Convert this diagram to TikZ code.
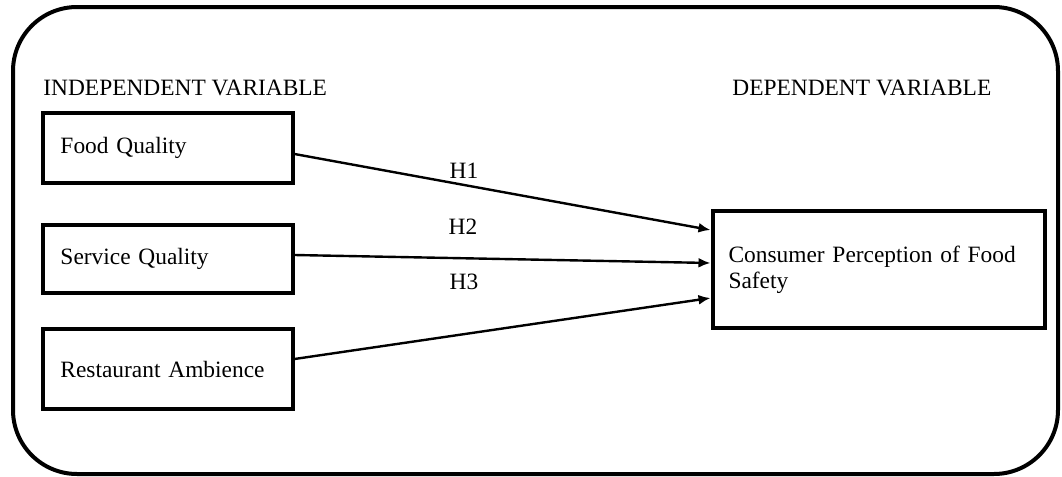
\documentclass[tikz,border=0pt]{standalone}
\usepackage{fontspec}
\setmainfont{Liberation Serif}
\usetikzlibrary{positioning,arrows.meta,calc}

\begin{document}
\begin{tikzpicture}[
    x=0.5pt, y=-0.5pt,
    node distance=20pt and 40pt,
    varbox/.style={rectangle, draw, line width=2pt, text width=107pt, inner xsep=9pt, minimum height=35pt, align=left, font=\fontsize{11.7}{13}\selectfont},
    depbox/.style={rectangle, draw, line width=2pt, text width=150pt, inner xsep=8pt, minimum height=58.5pt, align=left, font=\fontsize{11.7}{13}\selectfont},
    headnode/.style={anchor=west, inner sep=0pt, font=\fontsize{11.7}{13}\selectfont},
    hypnode/.style={inner sep=0pt, font=\fontsize{11.7}{13}\selectfont},
    hyparrow/.style={-{Latex[length=6pt,width=5pt]}, line width=1.2pt}
]
\useasboundingbox (0,0) rectangle (1062,477);

% Outer frame
\draw[line width=2pt, rounded corners=32pt] (13,7) rectangle (1058,474);

% Headings
\node[headnode] (indep) at (43,88) {INDEPENDENT VARIABLE};
\node[headnode] (dep) at (732,88) {DEPENDENT VARIABLE};

% Independent variables
\node[varbox] (food) at (167.5,148) {Food Quality};
\node[varbox, below=19pt of food, minimum height=34pt] (service) {Service Quality};
\node[varbox, below=16pt of service, minimum height=40pt] (ambience) {Restaurant Ambience};

% Dependent variable
\node[depbox] (safety) at (878.5,269.5) {Consumer Perception of Food Safety};

% Hypotheses
\draw[hyparrow] ($(food.east)+(0,6)$) -- ($(safety.west)+(0,-39.5)$);
\draw[hyparrow] ($(service.east)+(0,-4)$) -- ($(safety.west)+(0,-6.5)$);
\draw[hyparrow] ($(ambience.east)+(0,-10)$) -- ($(safety.west)+(0,28.5)$);

\node[hypnode] (h1) at (464,171) {H1};
\node[hypnode] (h2) at (463,227) {H2};
\node[hypnode] (h3) at (464,282) {H3};
\end{tikzpicture}
\end{document}
